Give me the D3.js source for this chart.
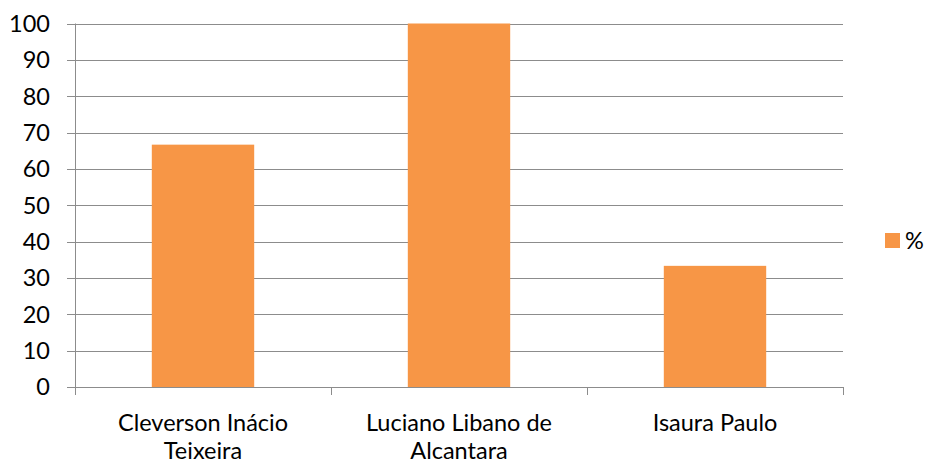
<!DOCTYPE html>
<html>
<head>
<meta charset="utf-8">
<script src="https://cdn.jsdelivr.net/npm/d3@7"></script>
<style>
  body { margin: 0; background: #fff; }
  text { font-family: Lato, "Open Sans", sans-serif; fill: #000; }
</style>
</head>
<body>
<script>
// dados do gráfico
var categories = [["Cleverson Inácio", "Teixeira"], ["Luciano Libano de", "Alcantara"], ["Isaura Paulo"]];
var values = [66.67, 100, 33.33];
var seriesName = "%";
var yTicks = [0, 10, 20, 30, 40, 50, 60, 70, 80, 90, 100];

var width = 927, height = 464;
var plotL = 75, plotR = 843, plotT = 23.5, plotB = 387;
var fs = "23.5px";

var svg = d3.select("body").append("svg")
    .attr("width", width)
    .attr("height", height);

var x = d3.scaleBand()
    .domain(d3.range(categories.length))
    .range([plotL, plotR])
    .paddingInner(0)
    .paddingOuter(0);

var y = d3.scaleLinear().domain([0, 100]).range([plotB, plotT]);

// linhas de grade
svg.append("g").selectAll("line")
    .data(yTicks)
  .enter().append("line")
    .attr("x1", plotL - 8).attr("x2", plotR)
    .attr("y1", function(d) { return Math.round(y(d)) + 0.5; })
    .attr("y2", function(d) { return Math.round(y(d)) + 0.5; })
    .attr("stroke", "#8c8c8c")
    .attr("stroke-width", 1);

// rótulos do eixo y
svg.append("g").selectAll("text")
    .data(yTicks)
  .enter().append("text")
    .attr("x", 50)
    .attr("y", function(d) { return y(d); })
    .attr("dy", "0.36em")
    .attr("text-anchor", "end")
    .style("font-size", fs)
    .text(function(d) { return d; });

// barras
var bw = x.bandwidth() * 0.4;
svg.append("g").selectAll("rect")
    .data(values)
  .enter().append("rect")
    .attr("x", function(d, i) { return x(i) + (x.bandwidth() - bw) / 2; })
    .attr("y", function(d) { return y(d); })
    .attr("width", bw)
    .attr("height", function(d) { return y(0) - y(d); })
    .attr("fill", "#f79646");

// eixo y
svg.append("line")
    .attr("x1", plotL + 0.5).attr("x2", plotL + 0.5)
    .attr("y1", plotT).attr("y2", plotB + 8)
    .attr("stroke", "#8c8c8c");

// eixo x
svg.append("line")
    .attr("x1", plotL).attr("x2", plotR)
    .attr("y1", Math.round(y(0)) + 0.5).attr("y2", Math.round(y(0)) + 0.5)
    .attr("stroke", "#8c8c8c");

svg.append("g").selectAll("line")
    .data(d3.range(categories.length + 1))
  .enter().append("line")
    .attr("x1", function(i) { return Math.round(plotL + i * x.step()) + 0.5; })
    .attr("x2", function(i) { return Math.round(plotL + i * x.step()) + 0.5; })
    .attr("y1", plotB).attr("y2", plotB + 8)
    .attr("stroke", "#8c8c8c");

// rótulos das categorias
var lab = svg.append("g").selectAll("text")
    .data(categories)
  .enter().append("text")
    .attr("text-anchor", "middle")
    .style("font-size", fs)
    .attr("transform", function(d, i) { return "translate(" + (x(i) + x.bandwidth() / 2) + ",431)"; });

lab.selectAll("tspan")
    .data(function(d) { return d; })
  .enter().append("tspan")
    .attr("x", 0)
    .attr("y", function(d, i) { return i * 28; })
    .text(function(d) { return d; });

// legenda
var leg = svg.append("g").attr("transform", "translate(885,233)");
leg.append("rect").attr("width", 15).attr("height", 15).attr("fill", "#f79646");
leg.append("text").attr("x", 20).attr("y", 7.5).attr("dy", "0.36em")
    .style("font-size", fs).text(seriesName);
</script>
</body>
</html>
